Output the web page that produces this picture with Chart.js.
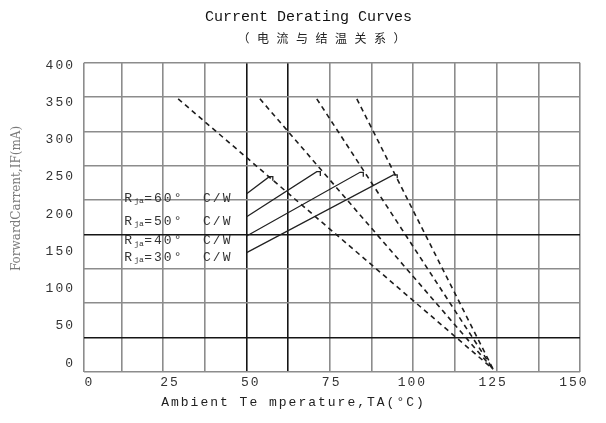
<!DOCTYPE html>
<html><head><meta charset="utf-8">
<script src="https://cdn.jsdelivr.net/npm/chart.js@4.4.1/dist/chart.umd.min.js"></script>
<style>html,body{margin:0;padding:0;background:#fff;}#wrap{width:606px;height:423px;}</style>
</head><body><div id="wrap"><canvas id="c"></canvas></div>
<script>
// ---- data ----
const xTickValues = [0, 25, 50, 75, 100, 125, 150];
const yTickValues = [0, 50, 100, 150, 200, 250, 300, 350, 400];
const rjaValues = [60, 50, 40, 30];
// dashed derating curves: ambient temperature (°C) and forward current (mA)
const curveTa = [[27.5, 125], [52.8, 125], [70.4, 125], [82.8, 125]];
const curveIf = [[355, -8], [355, -8], [355, -8], [355, -8]];
// solid leader lines from labels to curves
const leaderTa = [[48.7, 55.7, 56.8, 56.8], [48.7, 70.4, 71.5, 71.5], [48.7, 83.8, 84.8, 84.8], [48.7, 94.1, 95.3, 95.3]];
const leaderIf = [[227.5, 250.5, 250.5, 245], [196.8, 257.2, 257.2, 251.4], [170.9, 256.4, 256.4, 250.5], [148.5, 252.8, 252.8, 248.3]];
const gridCols = 12;
const gridRows = 9;

const TITLE_TEXT = 'Current Derating Curves';
const SUBTITLE_TEXT = '（电流与结温关系）';
const MONO = "'Liberation Mono', 'DejaVu Sans Mono', monospace";

const datasets = [];
curveTa.forEach((xs, i) => datasets.push({
  label: 'Rja=' + rjaValues[i] + ' curve',
  data: xs.map((x, j) => ({x: x, y: curveIf[i][j]})),
  borderColor: '#1e1e1e', borderWidth: 1.6, borderDash: [5, 4],
  pointRadius: 0, fill: false, tension: 0, xAxisID: 'x', yAxisID: 'y'
}));
leaderTa.forEach((xs, i) => datasets.push({
  label: 'Rja=' + rjaValues[i] + ' leader',
  data: xs.map((x, j) => ({x: x, y: leaderIf[i][j]})),
  borderColor: '#222', borderWidth: 1.3,
  pointRadius: 0, fill: false, tension: 0, xAxisID: 'x', yAxisID: 'y'
}));

const GRAY = '#8c8c8c', DARK = '#151515';
const darkCols = [4, 5], darkRows = [1, 4];

const styler = {
  id: 'styler',
  beforeDraw(chart) {
    const wrap = (obj, method, fn) => {
      if (!obj || obj['_wr_' + method]) return;
      const orig = obj[method];
      obj[method] = function (...a) {
        const ctx = chart.ctx; ctx.save(); fn(ctx);
        const r = orig.apply(this, a); ctx.restore(); return r;
      };
      obj['_wr_' + method] = true;
    };
    const sx = chart.scales.x, sy = chart.scales.y;
    wrap(sx, 'drawLabels', ctx => { ctx.letterSpacing = '2px'; });
    wrap(sy, 'drawLabels', ctx => { ctx.letterSpacing = '2px'; });
    wrap(sx, 'drawTitle', ctx => { ctx.letterSpacing = '2px'; ctx.translate(-38.5, 0); });
    wrap(sy, 'drawTitle', ctx => { ctx.translate(0, -18.7); });
    chart.boxes.forEach(b => {
      if (!b.options) return;
      if (b.options.text === TITLE_TEXT) wrap(b, 'draw', ctx => { ctx.translate(18.5, 0); });
      else if (b.options.text === SUBTITLE_TEXT) wrap(b, 'draw', ctx => { ctx.letterSpacing = '7.5px'; ctx.translate(35.2, 0); });
    });
  },
  afterDatasetsDraw(chart) {
    const xs = chart.scales.x, ys = chart.scales.y, ctx = chart.ctx;
    rjaValues.forEach((r, i) => {
      const px = xs.getPixelForValue(leaderTa[i][0]) - 122.4;
      const py = ys.getPixelForValue(leaderIf[i][0]) + 4.5;
      ctx.save();
      ctx.fillStyle = '#333'; ctx.textBaseline = 'middle'; ctx.textAlign = 'left';
      ctx.font = '13px ' + MONO; ctx.letterSpacing = '2px';
      ctx.fillText('R', px, py);
      ctx.font = '8px ' + MONO; ctx.letterSpacing = '0px';
      ctx.fillText('ja', px + 10, py + 3);
      ctx.font = '13px ' + MONO; ctx.letterSpacing = '2px';
      ctx.fillText('=' + r + '°  C/W', px + 20, py);
      ctx.restore();
    });
  }
};

new Chart(document.getElementById('c'), {
  type: 'line',
  data: {datasets: datasets},
  plugins: [styler],
  options: {
    responsive: true, maintainAspectRatio: false, animation: false,
    layout: {padding: {top: 0, right: 26, bottom: 0, left: 0}},
    plugins: {
      legend: {display: false},
      tooltip: {enabled: false},
      title: {display: true, text: TITLE_TEXT, color: '#111', font: {family: MONO, size: 15, weight: 'normal'}, padding: {top: 8, bottom: 2}},
      subtitle: {display: true, text: SUBTITLE_TEXT, color: '#222', font: {family: "'Noto Sans CJK SC'", size: 12}, padding: {top: 3, bottom: 17.3}}
    },
    scales: {
      x: {
        type: 'linear', position: 'bottom', weight: 1, min: -1.64, max: 151.87,
        grid: {display: false, drawTicks: false}, border: {display: false},
        afterBuildTicks: s => { s.ticks = xTickValues.map(v => ({value: v})); },
        afterFit: s => { s.height = 51.3; },
        ticks: {autoSkip: false, maxRotation: 0, padding: 3.5, color: '#333', font: {family: MONO, size: 13}},
        title: {display: true, text: 'Ambient Te mperature,TA(°C)', color: '#222', font: {family: MONO, size: 13}, padding: {top: 0, bottom: 12.2}}
      },
      xg: {
        type: 'linear', position: 'bottom', weight: 0, min: 0.1, max: gridCols,
        afterBuildTicks: s => { s.ticks = [{value: 0.1}].concat(Array.from({length: gridCols}, (_, i) => ({value: i + 1}))); },
        afterFit: s => { s.height = 0; },
        ticks: {display: false},
        grid: {drawTicks: false, lineWidth: 1.6, color: c => (c.tick && darkCols.includes(c.tick.value)) ? DARK : GRAY},
        border: {display: false}
      },
      y: {
        type: 'linear', position: 'left', weight: 1, min: -11.3, max: 403.5,
        grid: {display: false, drawTicks: false}, border: {display: false},
        afterBuildTicks: s => { s.ticks = yTickValues.map(v => ({value: v})); },
        afterFit: s => { s.width = 84; },
        ticks: {padding: 9, color: '#333', font: {family: MONO, size: 13}},
        title: {display: true, text: 'ForwardCarrent,IF(mA)', color: '#7a7a7a', font: {family: "'DejaVu Serif'", size: 12}, padding: {top: 9.8, bottom: 0}}
      },
      yg: {
        type: 'linear', position: 'left', weight: 0, min: 0, max: gridRows,
        afterBuildTicks: s => { s.ticks = Array.from({length: gridRows + 1}, (_, i) => ({value: i})); },
        afterFit: s => { s.width = 0; },
        ticks: {display: false},
        grid: {drawTicks: false, lineWidth: 1.6, color: c => (c.tick && darkRows.includes(c.tick.value)) ? DARK : GRAY},
        border: {display: false}
      }
    }
  }
});
</script></body></html>
